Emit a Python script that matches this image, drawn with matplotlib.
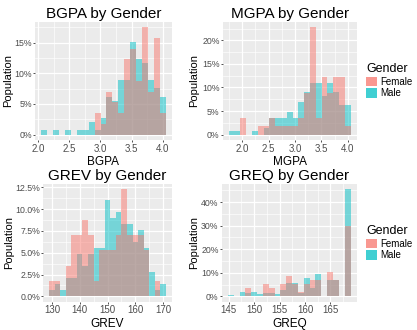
import matplotlib
matplotlib.use("Agg")
import matplotlib.pyplot as plt
from matplotlib.patches import Patch
from matplotlib.ticker import FixedLocator

plt.rcParams['font.family'] = ['Liberation Sans', 'DejaVu Sans']

# ---------------- data (percent of each gender per bin) ----------------
bgpa_centers = [2.1, 2.195, 2.29, 2.385, 2.48, 2.575, 2.67, 2.765, 2.86, 2.955, 3.05,
                3.145, 3.24, 3.335, 3.43, 3.525, 3.62, 3.715, 3.81, 3.905, 4.0]
bgpa_width = 0.095
bgpa_female = [0, 0, 0, 0, 0, 0, 0, 0, 0, 3.51, 1.75, 7.02, 5.26, 3.51, 12.28, 14.04,
               8.77, 17.54, 7.02, 15.79, 3.51]
bgpa_male = [0.69, 0, 0.69, 0, 0.69, 0, 0.69, 0.69, 2.07, 0.69, 2.76, 6.21, 5.52, 8.97,
             8.97, 15.17, 12.41, 11.72, 8.97, 7.59, 6.21]

mgpa_centers = [1.8, 1.91, 2.02, 2.13, 2.24, 2.35, 2.46, 2.57, 2.68, 2.79, 2.9, 3.01,
                3.12, 3.23, 3.34, 3.45, 3.56, 3.67, 3.78, 3.89, 4.0]
mgpa_width = 0.11
mgpa_female = [0, 0, 3.51, 0, 0, 1.75, 1.75, 3.51, 1.75, 1.75, 1.75, 1.75, 3.51, 8.77,
               22.81, 3.51, 12.28, 8.77, 12.28, 12.28, 1.75]
mgpa_male = [0.69, 0.69, 0, 0, 0.69, 0, 1.38, 3.45, 3.45, 3.45, 4.83, 3.45, 6.9, 8.97,
             11.03, 11.03, 8.28, 11.03, 8.97, 6.21, 6.21]

grev_centers = [130, 132, 134, 136, 138, 140, 142, 144, 146, 148, 150, 152, 154, 156,
                158, 160, 162, 164, 166, 168, 170]
grev_width = 2
grev_female = [1.75, 1.75, 0, 3.51, 7.02, 7.02, 8.77, 7.02, 1.75, 5.26, 5.26, 5.26, 7.02,
               12.28, 7.02, 7.02, 7.02, 5.26, 0, 1.75, 0]
grev_male = [0.69, 1.38, 0.69, 2.07, 2.07, 4.83, 3.45, 4.83, 5.52, 5.52, 11.03, 8.97,
             9.66, 8.28, 8.28, 6.21, 7.59, 5.52, 2.76, 0.69, 1.38]

greq_centers = [145.4, 146.55, 147.7, 148.85, 150.0, 151.15, 152.3, 153.45, 154.6, 155.75,
                156.9, 158.05, 159.2, 160.35, 161.5, 162.65, 163.8, 164.95, 166.1, 167.25,
                168.4]
greq_width = 1.15
greq_female = [0, 0, 0, 3.51, 0, 0, 5.26, 3.51, 0, 5.26, 8.77, 5.26, 1.75, 5.26, 7.02,
               7.02, 0, 10.53, 7.02, 0, 29.82]
greq_male = [0.69, 0, 1.8, 1.38, 1.8, 1.1, 1.38, 1.38, 1.1, 2.76, 5.52, 5.52, 1.38, 7.59,
             3.45, 9.31, 0, 6.9, 6.9, 0, 45.5]

groups = ["Female", "Male"]
colors = {"Female": "#F8766D", "Male": "#00BFC4"}

panels = [
    dict(title="BGPA by Gender", xlabel="BGPA", c=bgpa_centers, w=bgpa_width,
         f=bgpa_female, m=bgpa_male,
         xt=[2.0, 2.5, 3.0, 3.5, 4.0], xtl=["2.0", "2.5", "3.0", "3.5", "4.0"],
         xm=[2.25, 2.75, 3.25, 3.75],
         yt=[0, 5, 10, 15], ytl=["0%", "5%", "10%", "15%"], ym=[2.5, 7.5, 12.5, 17.5],
         rect=[35, 21.7, 172, 140], ylab_x=13.5, legend=False),
    dict(title="MGPA by Gender", xlabel="MGPA", c=mgpa_centers, w=mgpa_width,
         f=mgpa_female, m=mgpa_male,
         xt=[2.0, 2.5, 3.0, 3.5, 4.0], xtl=["2.0", "2.5", "3.0", "3.5", "4.0"],
         xm=[1.75, 2.25, 2.75, 3.25, 3.75],
         yt=[0, 5, 10, 15, 20], ytl=["0%", "5%", "10%", "15%", "20%"],
         ym=[2.5, 7.5, 12.5, 17.5, 22.5],
         rect=[222.7, 21.7, 356.7, 140], ylab_x=199.5, legend=True),
    dict(title="GREV by Gender", xlabel="GREV", c=grev_centers, w=grev_width,
         f=grev_female, m=grev_male,
         xt=[130, 140, 150, 160, 170], xtl=["130", "140", "150", "160", "170"],
         xm=[135, 145, 155, 165],
         yt=[0, 2.5, 5, 7.5, 10, 12.5],
         ytl=["0.0%", "2.5%", "5.0%", "7.5%", "10.0%", "12.5%"],
         ym=[1.25, 3.75, 6.25, 8.75, 11.25],
         rect=[43.3, 183.8, 171.7, 301.7], ylab_x=14.0, legend=False),
    dict(title="GREQ by Gender", xlabel="GREQ", c=greq_centers, w=greq_width,
         f=greq_female, m=greq_male,
         xt=[145, 150, 155, 160, 165], xtl=["145", "150", "155", "160", "165"],
         xm=[147.5, 152.5, 157.5, 162.5, 167.5],
         yt=[0, 10, 20, 30, 40], ytl=["0%", "10%", "20%", "30%", "40%"],
         ym=[5, 15, 25, 35, 45],
         rect=[221.7, 183.8, 356.7, 301.7], ylab_x=199.5, legend=True),
]

W, H = 417, 330
fig = plt.figure(figsize=(W / 100, H / 100), dpi=100)
fig.patch.set_facecolor("white")

ALPHA = 0.5
for p in panels:
    x0, y0, x1, y1 = p["rect"]
    ax = fig.add_axes([x0 / W, 1 - y1 / H, (x1 - x0) / W, (y1 - y0) / H])
    ax.set_facecolor("#EBEBEB")
    for s in ax.spines.values():
        s.set_visible(False)
    # Male first, Female on top (overlap appears mauve)
    ax.bar(p["c"], p["m"], width=p["w"], color=colors["Male"], alpha=ALPHA, linewidth=0, zorder=3)
    ax.bar(p["c"], p["f"], width=p["w"], color=colors["Female"], alpha=ALPHA, linewidth=0, zorder=4)
    lo = p["c"][0] - p["w"] / 2
    hi = p["c"][-1] + p["w"] / 2
    ex = (hi - lo) * 0.05
    ax.set_xlim(lo - ex, hi + ex)
    ymax = max(max(p["f"]), max(p["m"]))
    ax.set_ylim(-ymax * 0.05, ymax * 1.05)
    ax.set_xticks(p["xt"])
    ax.set_xticklabels(p["xtl"])
    ax.set_yticks(p["yt"])
    ax.set_yticklabels(p["ytl"])
    ax.xaxis.set_minor_locator(FixedLocator(p["xm"]))
    ax.yaxis.set_minor_locator(FixedLocator(p["ym"]))
    ax.grid(which="major", color="white", linewidth=0.9, zorder=1)
    ax.grid(which="minor", color="white", linewidth=0.45, zorder=1)
    ax.set_axisbelow(True)
    ax.tick_params(which="major", length=1.5, width=0.6, color="#333333",
                   labelsize=6.3, labelcolor="#4D4D4D", pad=0.8)
    ax.tick_params(axis="x", which="major", pad=1.2, labelsize=7)
    ax.tick_params(which="minor", length=0)
    ax.set_title(p["title"], fontsize=11, pad=3, color="black")
    ax.set_xlabel(p["xlabel"], fontsize=8.5, labelpad=1.5)
    ax.set_ylabel("Population", fontsize=8)
    ax.yaxis.set_label_coords((p["ylab_x"] - x0) / (x1 - x0), 0.5)
    if p["legend"]:
        handles = [Patch(facecolor=colors[g], alpha=0.75, edgecolor="none", label=g)
                   for g in groups]
        leg = ax.legend(handles=handles, title="Gender", loc="center left",
                        bbox_to_anchor=(1.0 + 9.5 / (x1 - x0), 0.5), frameon=False,
                        fontsize=7, title_fontsize=9, handlelength=1.1,
                        handleheight=1.1, handletextpad=0.3, labelspacing=0.15,
                        borderpad=0, borderaxespad=0, alignment="left")

fig.savefig("out.png", dpi=100)
